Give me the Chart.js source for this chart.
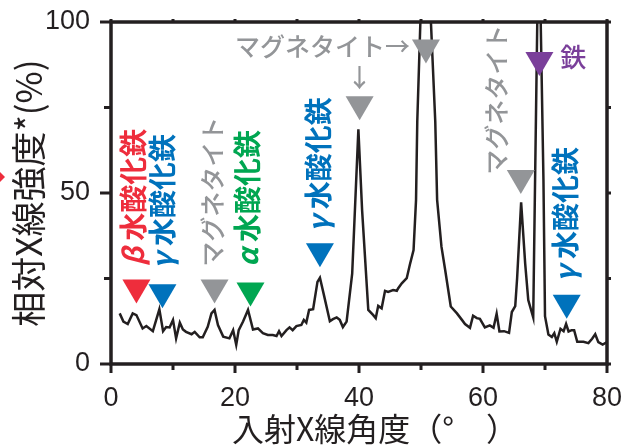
<!DOCTYPE html>
<html>
<head>
<meta charset="utf-8">
<script src="https://cdn.jsdelivr.net/npm/chart.js@4"></script>
<style>
html,body{margin:0;padding:0;background:#fff;}
</style>
</head>
<body>
<canvas id="xrd" width="626" height="448"></canvas>
<script>
// XRD pattern, relative intensity vs incident angle
var angle = [1.4,2.0,2.7,3.5,4.1,5.1,5.7,6.75,7.8,8.4,
  8.9,9.45,10.0,10.5,11.1,11.6,12.1,13.0,13.5,14.3,
  14.8,15.6,16.2,16.7,17.25,18.1,19.1,19.7,20.2,20.6,
  21.3,22.1,22.9,23.7,24.5,25.3,26.1,26.7,27.1,27.5,
  28.3,28.8,29.3,29.9,30.7,31.1,31.5,31.95,32.6,33.3,
  33.7,34.3,35.3,35.8,36.4,36.9,37.4,38.0,38.9,39.9,
  40.5,41.5,42.3,42.7,43.1,43.65,44.2,44.7,45.5,46.1,
  46.3,46.9,47.7,48.2,48.8,49.2,49.4,49.9,50.6,51.6,
  52.3,52.6,53.3,53.9,54.8,55.8,56.6,57.1,57.9,58.4,
  59.0,59.5,60.3,61.1,61.7,62.2,62.65,63.4,64.2,64.65,
  65.2,65.5,66.15,66.8,67.3,68.1,68.4,69.0,69.75,70.0,
  70.55,71.1,71.5,71.9,72.5,73.0,73.4,73.8,74.3,74.7,
  75.2,76.2,77.0,77.6,78.1,78.6,79.3,80.0];
var intensity = [14.8,12.4,11.7,14.8,14.3,10.4,11.1,9.6,16.0,9.6,
  10.8,10.7,12.9,7.5,12.1,10.1,9.4,8.7,9.4,7.8,
  7.8,10.9,14.8,15.8,11.4,8.0,7.5,9.9,5.6,9.9,
  12.4,15.8,10.1,10.4,9.0,8.5,8.5,8.2,9.6,8.2,
  9.9,10.7,9.9,11.1,11.4,12.9,12.1,15.8,16.0,24.0,
  25.2,20.5,12.5,13.1,13.6,12.9,10.8,12.4,26.4,68.6,
  45,15.8,14.3,13.4,17,16.3,21.4,21.1,21.6,21.4,
  22.1,23.6,25.1,29,33.3,48,71,100,141,100,
  71,48,34.3,27.5,16.8,14.8,12.9,11.7,10.6,14.1,
  13.4,13.2,10.7,11.3,10.6,14.7,9.5,9.6,9.1,15.2,
  16.9,25,47.3,29.4,18.7,13.6,53.8,132,53.8,14,
  8.6,7.9,9.0,6.5,10.3,9.6,11.7,9.5,9.9,9.9,
  6.5,6.5,6.1,7.4,8.7,6.4,5.7,6.4];

var xTicks = [0,20,40,60,80];
var yTicks = [0,50,100];

// peak markers (triangle tip, in data units)
var markX = [4.1,8.3,16.7,22.5,33.7,40.1,50.8,66.1,69.1,73.5];
var markY = [17.7,16.3,17.7,16.8,28.3,71.3,87.9,49.7,84.2,13.2];
var markPhase = ['beta','gamma','mag','alpha','gamma','mag','mag','mag','fe','gamma'];

// labels
var labelGreek = ['β','γ','','α','γ','','','','','γ'];
var labelText = [' 水酸化鉄',' 水酸化鉄','マグネタイト',' 水酸化鉄',' 水酸化鉄','マグネタイト→','↓','マグネタイト','鉄',' 水酸化鉄'];
var labelPhase = ['beta','gamma','mag','alpha','gamma','mag','mag','mag','fe','gamma'];
var labelX = [3.6,8.3,16.4,22.05,33.5,34.1,40.1,62.2,74.55,73.25];
var labelY = [28.7,27.8,28.4,28.4,38.6,92.7,83.9,55.3,89.8,24];
var labelUp = [1,1,1,1,1,0,0,1,0,1];

var phaseColor = {beta:'#ee2d3c', gamma:'#0072bc', alpha:'#00a651', mag:'#939598', fe:'#7a3f9a'};
var ink = '#231f20';
var cjk = '"Noto Sans CJK JP", "Noto Sans CJK SC", sans-serif';
var num = '"Liberation Sans", Arial, sans-serif';

var points = [];
for (var i = 0; i < angle.length; i++) points.push({x: angle[i], y: intensity[i]});

var framePlugin = {
  id: 'frame',
  afterDatasetsDraw: function(chart) {
    var a = chart.chartArea, ctx = chart.ctx;
    var xs = chart.scales.x, ys = chart.scales.y;
    ctx.save();
    ctx.strokeStyle = ink;
    ctx.lineWidth = 3.5;
    ctx.strokeRect(a.left, a.top, a.right - a.left, a.bottom - a.top);
    ctx.lineWidth = 3;
    ctx.beginPath();
    for (var v = 0; v <= 80; v += 10) {
      var px = xs.getPixelForValue(v);
      ctx.moveTo(px, a.bottom); ctx.lineTo(px, a.bottom + (v % 20 ? 6 : 9));
      ctx.moveTo(px, a.top); ctx.lineTo(px, a.top - 3);
    }
    for (v = 0; v <= 100; v += 25) {
      var py = ys.getPixelForValue(v);
      ctx.moveTo(a.left, py); ctx.lineTo(a.left - (v % 50 ? 7 : 11), py);
      ctx.moveTo(a.right, py); ctx.lineTo(a.right + 4, py);
    }
    ctx.stroke();
    // cut-off red mark at the left edge
    ctx.fillStyle = '#ee2d3c';
    ctx.beginPath();
    ctx.moveTo(-1, 171); ctx.lineTo(5, 177); ctx.lineTo(-1, 183); ctx.lineTo(-7, 177);
    ctx.fill();
    ctx.restore();
  },
  afterDraw: function(chart) {
    var ctx = chart.ctx, xs = chart.scales.x, ys = chart.scales.y;
    ctx.save();
    for (var i = 0; i < markX.length; i++) {
      var px = xs.getPixelForValue(markX[i]), py = ys.getPixelForValue(markY[i]);
      ctx.fillStyle = phaseColor[markPhase[i]];
      ctx.beginPath();
      ctx.moveTo(px, py); ctx.lineTo(px - 14, py - 24); ctx.lineTo(px + 14, py - 24);
      ctx.closePath();
      ctx.fill();
    }
    for (i = 0; i < labelText.length; i++) {
      var lx = xs.getPixelForValue(labelX[i]), ly = ys.getPixelForValue(labelY[i]);
      var isGray = labelPhase[i] === 'mag' || labelPhase[i] === 'fe';
      var size = labelUp[i] ? (isGray ? 25 : 28) : (labelPhase[i] === 'fe' ? 26 : 25);
      var weight = isGray ? '500' : 'bold';
      ctx.fillStyle = phaseColor[labelPhase[i]];
      ctx.textBaseline = 'middle';
      ctx.save();
      ctx.translate(lx, ly);
      if (labelUp[i]) {
        ctx.rotate(-Math.PI / 2);
        ctx.textAlign = 'left';
        var off = 0;
        if (labelGreek[i]) {
          ctx.font = 'italic bold ' + size + 'px ' + cjk;
          ctx.fillText(labelGreek[i], 0, 0);
          off = ctx.measureText(labelGreek[i]).width;
        }
        ctx.font = weight + ' ' + size + 'px ' + cjk;
        ctx.fillText(labelText[i], off, 0);
      } else {
        ctx.textAlign = 'center';
        ctx.font = weight + ' ' + size + 'px ' + cjk;
        ctx.fillText(labelText[i], 0, 0);
      }
      ctx.restore();
    }
    ctx.restore();
  }
};

new Chart(document.getElementById('xrd'), {
  type: 'scatter',
  data: {
    datasets: [{
      data: points,
      showLine: true,
      borderColor: ink,
      borderWidth: 2.5,
      pointRadius: 0,
      tension: 0
    }]
  },
  options: {
    responsive: false,
    animation: false,
    devicePixelRatio: 1,
    layout: {padding: {top: 22, right: 19}},
    plugins: {legend: {display: false}, tooltip: {enabled: false}},
    scales: {
      x: {
        type: 'linear', min: 0, max: 80,
        afterFit: function(s) { s.height = 84; s.paddingLeft = 0; s.paddingRight = 0; },
        afterBuildTicks: function(s) { s.ticks = xTicks.map(function(v) { return {value: v}; }); },
        grid: {display: false},
        border: {display: false},
        ticks: {color: ink, font: {family: num, size: 27}, padding: 10, maxRotation: 0},
        title: {display: true, text: '　入射X線角度（°　）', color: ink,
          font: {family: cjk, size: 32, lineHeight: 1}, padding: {top: 0, bottom: 3}}
      },
      y: {
        min: 0, max: 100,
        afterFit: function(s) { s.width = 111; s.paddingTop = 0; s.paddingBottom = 0; },
        afterBuildTicks: function(s) { s.ticks = yTicks.map(function(v) { return {value: v}; }); },
        grid: {display: false},
        border: {display: false},
        ticks: {color: ink, font: {family: num, size: 27}, padding: 13},
        title: {display: true, text: '相対X線強度*(%)', color: ink,
          font: {family: cjk, size: 35, lineHeight: 1}, padding: {top: 11, bottom: 0}}
      }
    }
  },
  plugins: [framePlugin]
});
</script>
</body>
</html>
